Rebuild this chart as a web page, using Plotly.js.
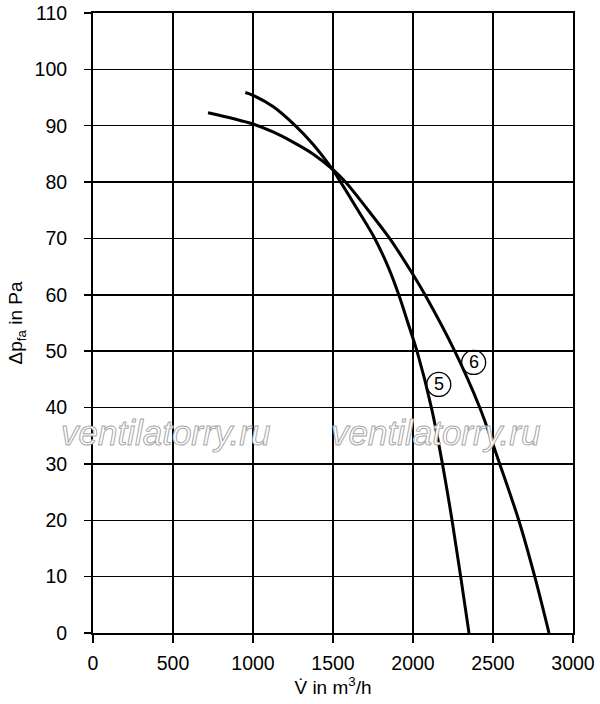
<!DOCTYPE html>
<html>
<head>
<meta charset="utf-8">
<script src="https://cdn.plot.ly/plotly-3.0.1.min.js"></script>
<style>
  html, body { margin: 0; padding: 0; background: #fff; }
  #chart { width: 600px; height: 704px; }
</style>
</head>
<body>
<div id="chart"></div>
<script>
// Curve 5 (steeper)
const flow5 = [952, 1000, 1125, 1261, 1375, 1500, 1548, 1656, 1761, 1844, 1911, 1973, 2025, 2115, 2184, 2244, 2298, 2350];
const pressure5 = [95.9, 95.4, 93.4, 90.1, 86.7, 82.1, 80.0, 75.0, 70.0, 65.0, 60.0, 54.6, 50.0, 40.0, 30.0, 20.0, 10.0, 0.0];
// Curve 6 (flatter)
const flow6 = [719, 1000, 1125, 1250, 1375, 1500, 1578, 1720, 1854, 2000, 2075, 2261, 2417, 2542, 2661, 2761, 2850];
const pressure6 = [92.3, 90.3, 88.9, 87.1, 85.0, 82.2, 80.0, 75.0, 70.0, 63.6, 60.0, 50.0, 40.0, 30.0, 20.0, 10.0, 0.0];
// Curve labels
const curveNames = ["5", "6"];
const labelFlow = [2161, 2379];
const labelPressure = [44.1, 48.0];
// Ticks
const xTicks = [0, 500, 1000, 1500, 2000, 2500, 3000];
const yTicks = [0, 10, 20, 30, 40, 50, 60, 70, 80, 90, 100, 110];
const watermark = "ventilatorry.ru";
const watermarkFlow = [455, 2140];
const watermarkPressure = [35.6, 35.6];

const FONT = "Liberation Sans, Arial, Helvetica, sans-serif";

const traces = [
  { x: flow5, y: pressure5, mode: "lines", line: { color: "#000", width: 3, shape: "spline", smoothing: 1 }, hoverinfo: "skip", showlegend: false },
  { x: flow6, y: pressure6, mode: "lines", line: { color: "#000", width: 3, shape: "spline", smoothing: 1 }, hoverinfo: "skip", showlegend: false }
];

const annotations = [];
watermarkFlow.forEach((fx, i) => {
  annotations.push({
    x: fx, y: watermarkPressure[i], xref: "x", yref: "y", text: watermark, showarrow: false,
    font: { family: FONT, size: 35, color: "#c0c0c0", style: "italic" }
  });
});
curveNames.forEach((n, i) => {
  annotations.push({
    x: labelFlow[i], y: labelPressure[i], xref: "x", yref: "y", text: n, showarrow: false,
    font: { family: FONT, size: 18, color: "#000" }
  });
});

const shapes = curveNames.map((n, i) => ({
  type: "circle", xref: "x", yref: "y", xsizemode: "pixel", ysizemode: "pixel",
  xanchor: labelFlow[i], yanchor: labelPressure[i],
  x0: -12, x1: 12, y0: -12, y1: 12,
  line: { color: "#000", width: 1.3 }, fillcolor: "rgba(255,255,255,0)"
}));

const layout = {
  width: 600, height: 704,
  margin: { l: 93.3, r: 26.7, t: 13.3, b: 70.7 },
  paper_bgcolor: "#fff", plot_bgcolor: "#fff",
  font: { family: FONT, size: 19, color: "#000" },
  xaxis: {
    range: [0, 3000], tickvals: xTicks, ticktext: xTicks.map(String),
    showgrid: true, gridcolor: "#000", gridwidth: 1.5,
    showline: true, linecolor: "#000", linewidth: 2, mirror: true,
    zeroline: false, ticks: "outside", ticklen: 8, tickwidth: 1.5, tickcolor: "#000",
    ticklabelstandoff: 4,
    tickfont: { family: FONT, size: 19.5, color: "#000" },
    title: { text: "V\u0307 in m<sup>3</sup>/h", font: { family: FONT, size: 19, color: "#000" }, standoff: 2 },
    automargin: false, fixedrange: true
  },
  yaxis: {
    range: [0, 110], tickvals: yTicks, ticktext: yTicks.map(String),
    showgrid: true, gridcolor: "#000", gridwidth: 1.5,
    showline: true, linecolor: "#000", linewidth: 2, mirror: true,
    zeroline: false, ticks: "outside", ticklen: 7, tickwidth: 1.5, tickcolor: "#000",
    ticklabelstandoff: 13,
    tickfont: { family: FONT, size: 19.5, color: "#000" },
    title: { text: "\u0394p<sub>fa</sub> in Pa", font: { family: FONT, size: 19, color: "#000" }, standoff: 7 },
    automargin: false, fixedrange: true
  },
  annotations: annotations,
  shapes: shapes
};

Plotly.newPlot("chart", traces, layout, { displayModeBar: false, staticPlot: true }).then(() => {
  document.querySelectorAll("#chart .annotation-text").forEach(t => {
    if (t.textContent === watermark) {
      t.style.setProperty("fill", "#ffffff", "important");
      t.style.setProperty("stroke", "#a8a8a8");
      t.style.setProperty("stroke-width", "1px");
    }
  });
});
</script>
</body>
</html>
